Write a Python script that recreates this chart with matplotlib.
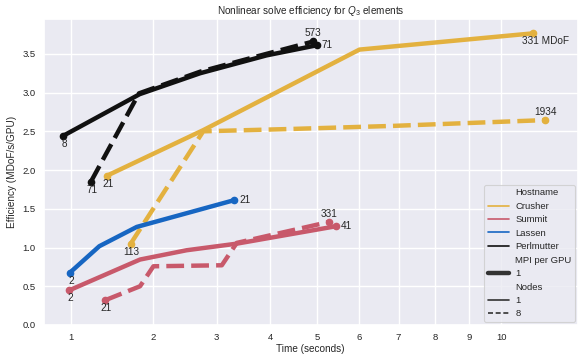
import numpy as np
import matplotlib
matplotlib.use("Agg")
import matplotlib.pyplot as plt
import seaborn as sns
from matplotlib.lines import Line2D

sns.set_theme(style="darkgrid")
plt.rcParams["font.family"] = ["Liberation Sans", "DejaVu Sans"]
plt.rcParams["mathtext.fontset"] = "custom"
plt.rcParams["mathtext.it"] = "Liberation Sans:italic"
plt.rcParams["mathtext.rm"] = "Liberation Sans"

# ---- data ----
perl1_t = [0.92, 1.81, 2.72, 3.93, 4.99]
perl1_e = [2.44, 2.98, 3.25, 3.48, 3.61]
perl8_t = [1.21, 1.80, 2.72, 3.93, 4.92]
perl8_e = [1.85, 2.99, 3.27, 3.50, 3.66]
crus1_t = [1.39, 2.77, 6.00, 11.04]
crus1_e = [1.925, 2.515, 3.555, 3.765]
crus8_t = [1.69, 2.77, 4.41, 6.85, 11.44]
crus8_e = [1.05, 2.50, 2.53, 2.57, 2.645]
lass1_t = [0.99, 1.305, 1.77, 3.31]
lass1_e = [0.677, 1.017, 1.266, 1.611]
summ1_t = [0.983, 1.814, 2.50, 3.36, 5.44]
summ1_e = [0.448, 0.845, 0.965, 1.05, 1.275]
summ8_t = [1.371, 1.814, 2.00, 3.09, 3.36, 5.28]
summ8_e = [0.319, 0.50, 0.758, 0.771, 1.06, 1.331]

hosts = ["Crusher", "Summit", "Lassen", "Perlmutter"]
colors = {"Crusher": "#e3b13f", "Summit": "#c8596b", "Lassen": "#1766c2", "Perlmutter": "#111111"}

series = [
    ("Perlmutter", 1, perl1_t, perl1_e, "8", "71"),
    ("Perlmutter", 8, perl8_t, perl8_e, "71", "573"),
    ("Crusher", 1, crus1_t, crus1_e, "21", "331 MDoF"),
    ("Crusher", 8, crus8_t, crus8_e, "113", "1934"),
    ("Lassen", 1, lass1_t, lass1_e, "2", "21"),
    ("Summit", 1, summ1_t, summ1_e, "2", "41"),
    ("Summit", 8, summ8_t, summ8_e, "21", "331"),
]
# label placement: (start kind, end kind)
placement = [
    ("below", "right"),
    ("below", "above"),
    ("below", "mdof"),
    ("below", "above"),
    ("below", "right"),
    ("below", "right"),
    ("below", "above"),
]

xticks = [1, 2, 3, 4, 5, 6, 7, 8, 9, 10]
yticks = [0.0, 0.5, 1.0, 1.5, 2.0, 2.5, 3.0, 3.5]

fig = plt.figure(figsize=(5.79, 3.6), dpi=100)
ax = fig.add_axes([43.5 / 579, 1 - 325 / 360, (578 - 43.5) / 579, (325 - 19.3) / 360])
ax.set_xscale("function", functions=(lambda x: np.sqrt(np.clip(x, 0, None)), lambda x: np.square(x)))

lw = 3.2
for (host, nodes, t, e, l0, l1), (p0, p1) in zip(series, placement):
    c = colors[host]
    ls = "-" if nodes == 1 else (0, (4, 1.6))
    ax.plot(t, e, color=c, lw=lw, linestyle=ls, solid_capstyle="butt", dash_capstyle="butt", zorder=3)
    ax.plot([t[0], t[-1]], [e[0], e[-1]], "o", color=c, ms=4.5, zorder=4)
    for lab, kind, xx, yy in ((l0, p0, t[0], e[0]), (l1, p1, t[-1], e[-1])):
        if kind == "below":
            off, ha, va = (1, -3), "center", "top"
        elif kind == "above":
            off, ha, va = (0, 3), "center", "bottom"
        elif kind == "right":
            off, ha, va = (5, 0), "left", "center"
        else:
            off, ha, va = (-11, -3), "left", "top"
        ax.annotate(lab, (xx, yy), xytext=off, textcoords="offset pixels",
                    ha=ha, va=va, fontsize=7.2, color="#262626", zorder=5)

ax.set_xlim(0.7427, 12.586)
ax.set_ylim(0, 3.946)
ax.set_xticks(xticks)
ax.set_xticklabels([str(v) for v in xticks])
ax.xaxis.set_minor_locator(matplotlib.ticker.NullLocator())
ax.set_yticks(yticks)
ax.set_yticklabels([f"{v:.1f}" for v in yticks])
ax.tick_params(labelsize=6.8, length=0, pad=5.5)
ax.set_xlabel("Time (seconds)", fontsize=7.2, labelpad=2)
ax.set_ylabel("Efficiency (MDoF/s/GPU)", fontsize=7.2, labelpad=4)
ax.set_title("Nonlinear solve efficiency for $Q_3$ elements", fontsize=7.2, pad=4)

blank = Line2D([], [], color="none")
handles = [blank]
labels = ["Hostname"]
for h in hosts:
    handles.append(Line2D([], [], color=colors[h], lw=1.2))
    labels.append(h)
handles += [blank, Line2D([], [], color="#333333", lw=lw), blank,
            Line2D([], [], color="#333333", lw=1.2),
            Line2D([], [], color="#333333", lw=1.2, linestyle=(0, (3, 1.6)))]
labels += ["MPI per GPU", "1", "Nodes", "1", "8"]
leg = ax.legend(handles, labels, loc="lower right", fontsize=6.8, labelspacing=0.47,
                handlelength=2.2, handletextpad=0.7, borderpad=0.4, borderaxespad=0.3,
                frameon=True)
leg.get_frame().set_linewidth(0.8)

fig.savefig("out.png", dpi=100)
